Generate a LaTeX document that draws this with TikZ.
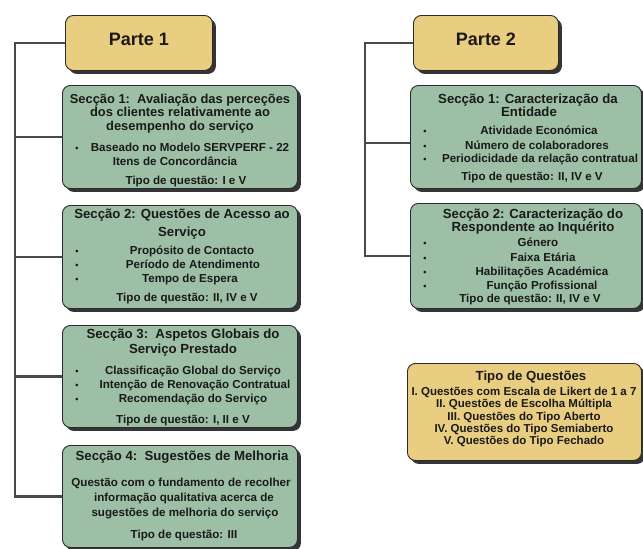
\documentclass[tikz,border=0pt]{standalone}
\usepackage{fontspec}
\setmainfont{Liberation Sans}
\usetikzlibrary{shadows}

\definecolor{gold}{HTML}{E9CD80}
\definecolor{sage}{HTML}{9DBFA5}
\definecolor{ink}{HTML}{1A1A1A}
\definecolor{edge}{HTML}{2B2B2B}
\definecolor{shade}{HTML}{353535}
\definecolor{wire}{HTML}{4A4A4A}

\tikzset{
  card/.style={draw=edge, line width=0.9pt, rounded corners=8pt, inner sep=0pt,
    anchor=north west,
    general shadow={fill=shade, shadow xshift=3.5pt, shadow yshift=-3.5pt}},
  partbox/.style={card, fill=gold},
  secbox/.style={card, fill=sage},
  keybox/.style={card, fill=gold},
  conn/.style={draw=wire, line width=2.4pt},
  ln/.style={inner sep=0pt, text height=0.72em, text depth=0pt, text=ink,
    font=\bfseries\fontsize{11.6}{12}\selectfont},
  hd/.style={ln, font=\bfseries\fontsize{13.2}{14}\selectfont},
  big/.style={ln, font=\bfseries\fontsize{18}{20}\selectfont},
  dot/.style={ln, font=\bfseries\fontsize{9}{10}\selectfont},
  keyln/.style={ln, font=\bfseries\fontsize{11.5}{12}\selectfont},
}

\begin{document}
\begin{tikzpicture}[x=1pt,y=-1pt]
\useasboundingbox (0,0) rectangle (643,549);
\fill[white] (0,0) rectangle (643,549);

% ---------- cards ----------
\node[partbox, minimum width=147pt, minimum height=55pt] (p1) at (65,15) {};
\node[partbox, minimum width=145pt, minimum height=55pt] (p2) at (413,15) {};

\node[secbox, minimum width=235pt, minimum height=103pt] (p1s1) at (62,85) {};
\node[secbox, minimum width=235pt, minimum height=103pt] (p1s2) at (62,205) {};
\node[secbox, minimum width=235pt, minimum height=102pt] (p1s3) at (62,325) {};
\node[secbox, minimum width=235pt, minimum height=102pt] (p1s4) at (62,445) {};

\node[secbox, minimum width=231pt, minimum height=103pt] (p2s1) at (410,85) {};
\node[secbox, minimum width=231pt, minimum height=105pt] (p2s2) at (410,203) {};

\node[keybox, minimum width=234pt, minimum height=97pt] (key) at (407,363) {};

% ---------- connectors ----------
\coordinate (spineA) at (15,0);
\coordinate (spineB) at (365,0);
\draw[conn] (p1.west) -| (spineA |- p1s4.west) -- (p1s4.west);
\foreach \b in {p1s1,p1s2,p1s3}
  \draw[conn] (\b.west) -- (\b.west -| spineA);
\draw[conn] (p2.west) -| (spineB |- p2s2.west) -- (p2s2.west);
\draw[conn] ([yshift=-6pt]p2s1.west) -- ([yshift=-6pt]p2s1.west -| spineB);

% ---------- part headers ----------
\node[big] (p1t) at (139,42) {Parte 1};
\node[big] (p2t) at (486,42) {Parte 2};

% ---------- Parte 1, Secção 1 ----------
\node[hd, font=\bfseries\fontsize{12.9}{14}\selectfont] (p1s1a) at (180,100) {Secção 1:\ \ Avaliação das perceções};
\node[hd, font=\bfseries\fontsize{12.9}{14}\selectfont] (p1s1b) at (180,113) {dos clientes relativamente ao};
\node[hd, font=\bfseries\fontsize{12.9}{14}\selectfont] (p1s1c) at (180,127) {desempenho do serviço};
\node[dot] (p1s1d0) at (77,148) {\textbullet};
\node[ln] (p1s1d) at (190,148) {Baseado no Modelo SERVPERF - 22};
\node[ln] (p1s1e) at (175,162) {Itens de Concordância};
\node[ln] (p1s1f) at (186,181) {Tipo de questão: I e V};

% ---------- Parte 1, Secção 2 ----------
\node[hd] (p1s2a) at (182,215) {Secção 2: Questões de Acesso ao};
\node[hd] (p1s2b) at (182,233) {Serviço};
\node[dot] (p1s2c0) at (77,251) {\textbullet};
\node[ln] (p1s2c) at (192,251) {Propósito de Contacto};
\node[dot] (p1s2d0) at (77,265) {\textbullet};
\node[ln] (p1s2d) at (193,265) {Período de Atendimento};
\node[dot] (p1s2e0) at (77,279) {\textbullet};
\node[ln] (p1s2e) at (190,279) {Tempo de Espera};
\node[ln] (p1s2f) at (187,298) {Tipo de questão: II, IV e V};

% ---------- Parte 1, Secção 3 ----------
\node[hd] (p1s3a) at (183,335) {Secção 3:\ \ Aspetos Globais do};
\node[hd] (p1s3b) at (183,350) {Serviço Prestado};
\node[dot] (p1s3c0) at (77,371) {\textbullet};
\node[ln] (p1s3c) at (193,371) {Classificação Global do Serviço};
\node[dot] (p1s3d0) at (77,385) {\textbullet};
\node[ln] (p1s3d) at (195,385) {Intenção de Renovação Contratual};
\node[dot] (p1s3e0) at (77,399) {\textbullet};
\node[ln] (p1s3e) at (193,399) {Recomendação do Serviço};
\node[ln] (p1s3f) at (183,420) {Tipo de questão: I, II e V};

% ---------- Parte 1, Secção 4 ----------
\node[hd] (p1s4a) at (182,457) {Secção 4:\ \ Sugestões de Melhoria};
\node[ln] (p1s4b) at (181,483) {Questão com o fundamento de recolher};
\node[ln] (p1s4c) at (184,498) {informação qualitativa acerca de};
\node[ln] (p1s4d) at (185,513) {sugestões de melhoria do serviço};
\node[ln] (p1s4e) at (184,535) {Tipo de questão: III};

% ---------- Parte 2, Secção 1 ----------
\node[hd] (p2s1a) at (528,100) {Secção 1: Caracterização da};
\node[hd] (p2s1b) at (529,113) {Entidade};
\node[dot] (p2s1c0) at (425,131) {\textbullet};
\node[ln] (p2s1c) at (539,131) {Atividade Económica};
\node[dot] (p2s1d0) at (425,146) {\textbullet};
\node[ln] (p2s1d) at (537,146) {Número de colaboradores};
\node[dot] (p2s1e0) at (425,159) {\textbullet};
\node[ln] (p2s1e) at (540,159) {Periodicidade da relação contratual};
\node[ln] (p2s1f) at (532,177) {Tipo de questão: II, IV e V};

% ---------- Parte 2, Secção 2 ----------
\node[hd] (p2s2a) at (533,215) {Secção 2: Caracterização do};
\node[hd] (p2s2b) at (533,228) {Respondente ao Inquérito};
\node[dot] (p2s2c0) at (425,243) {\textbullet};
\node[ln] (p2s2c) at (538,243) {Género};
\node[dot] (p2s2d0) at (425,258) {\textbullet};
\node[ln] (p2s2d) at (543,258) {Faixa Etária};
\node[dot] (p2s2e0) at (425,272) {\textbullet};
\node[ln] (p2s2e) at (542,272) {Habilitações Académica};
\node[dot] (p2s2f0) at (425,286) {\textbullet};
\node[ln] (p2s2f) at (542,286) {Função Profissional};
\node[ln] (p2s2g) at (530,299) {Tipo de questão: II, IV e V};

% ---------- key of question types ----------
\node[hd] (keya) at (531,377) {Tipo de Questões};
\node[keyln] (keyb) at (524,392) {I. Questões com Escala de Likert de 1 a 7};
\node[keyln] (keyc) at (524,404) {II. Questões de Escolha Múltipla};
\node[keyln] (keyd) at (524,417) {III. Questões do Tipo Aberto};
\node[keyln] (keye) at (524,429) {IV. Questões do Tipo Semiaberto};
\node[keyln] (keyf) at (524,441) {V. Questões do Tipo Fechado};
\end{tikzpicture}
\end{document}
